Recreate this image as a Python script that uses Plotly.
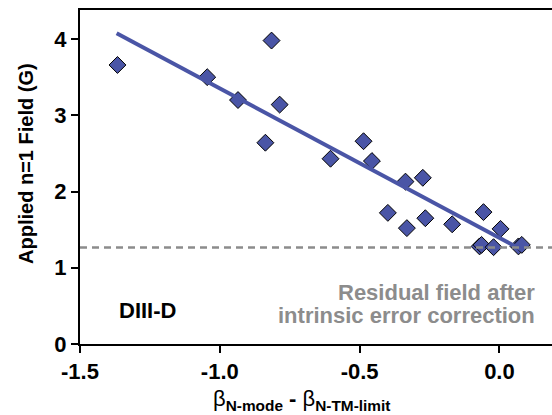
import plotly.graph_objects as go

# Data
beta_diff = [-1.366, -1.045, -0.935, -0.837, -0.815, -0.786, -0.604, -0.486, -0.456,
             -0.336, -0.274, -0.399, -0.331, -0.265, -0.169, -0.057, 0.004,
             -0.071, -0.064, -0.021, 0.068, 0.080]
applied_field = [3.66, 3.50, 3.20, 2.64, 3.98, 3.14, 2.43, 2.66, 2.40,
                 2.13, 2.18, 1.72, 1.52, 1.65, 1.57, 1.73, 1.51,
                 1.28, 1.30, 1.27, 1.28, 1.30]

fit_x = [-1.369, 0.080]
fit_y = [4.076, 1.236]

residual_field = 1.266

x_ticks = [-1.5, -1.0, -0.5, 0.0]
x_tick_labels = ["-1.5", "-1.0", "-0.5", "0.0"]
y_ticks = [0, 1, 2, 3, 4]
y_tick_labels = ["0", "1", "2", "3", "4"]

BLUE = "#4a55a6"
GRAY = "#8c8c8c"
FONT = "Liberation Sans"

fig = go.Figure()
fig.add_trace(go.Scatter(
    x=beta_diff, y=applied_field, mode="markers",
    marker=dict(symbol="diamond", size=13, color=BLUE,
                line=dict(color="black", width=1)),
    showlegend=False, hoverinfo="x+y"))
fig.add_trace(go.Scatter(
    x=fit_x, y=fit_y, mode="lines",
    line=dict(color=BLUE, width=4), showlegend=False))

fig.add_shape(type="line", xref="paper", x0=0, x1=1, yref="y",
              y0=residual_field, y1=residual_field, layer="above",
              line=dict(color=GRAY, width=2.5, dash="7px,5px"))

fig.update_layout(
    width=552, height=415,
    margin=dict(l=80, r=0, t=10, b=71),
    paper_bgcolor="white", plot_bgcolor="white",
    font=dict(family=FONT, color="black"),
    xaxis=dict(range=[-1.5, 0.188], tickvals=x_ticks, ticktext=x_tick_labels,
               showgrid=False, zeroline=False, showline=True, mirror=True,
               linecolor="black", linewidth=2, ticks="outside", ticklen=7,
               tickwidth=2, tickcolor="black",
               tickfont=dict(family=FONT, size=22, weight="bold", color="black")),
    yaxis=dict(range=[0, 4.381], tickvals=y_ticks, ticktext=y_tick_labels,
               showgrid=False, zeroline=False, showline=True, mirror=False,
               linecolor="black", linewidth=2, ticks="outside", ticklen=7,
               tickwidth=2, tickcolor="black",
               tickfont=dict(family=FONT, size=22, weight="bold", color="black")),
    annotations=[
        dict(text="<b>Applied n=1 Field (G)</b>", textangle=-90,
             xref="paper", x=0, xshift=-54, xanchor="center",
             yref="paper", y=0.539, yanchor="middle", showarrow=False,
             font=dict(family=FONT, size=20, color="black")),
        dict(text="β<sub><b>N-mode</b></sub><b> - </b>β<sub><b>N-TM-limit</b></sub>",
             xref="paper", x=0.470, xanchor="center",
             yref="paper", y=0, yshift=-40, yanchor="top", showarrow=False,
             font=dict(family=FONT, size=22, color="black")),
        dict(text="<b>DIII-D</b>", xref="paper", x=0, xshift=37, xanchor="left",
             yref="y", y=0.436, yanchor="middle", showarrow=False,
             font=dict(family=FONT, size=22, color="black")),
        dict(text="<b>Residual field after</b>", xref="paper", x=1, xshift=-15,
             xanchor="right", yref="y", y=0.670, yanchor="middle", showarrow=False,
             font=dict(family=FONT, size=22, color=GRAY)),
        dict(text="<b>intrinsic error correction</b>", xref="paper", x=1, xshift=-15,
             xanchor="right", yref="y", y=0.380, yanchor="middle", showarrow=False,
             font=dict(family=FONT, size=22, color=GRAY)),
    ],
)

fig.write_html("out.html", config={"displayModeBar": False},
               post_script="document.body.style.margin='0';document.body.style.overflow='hidden';")
